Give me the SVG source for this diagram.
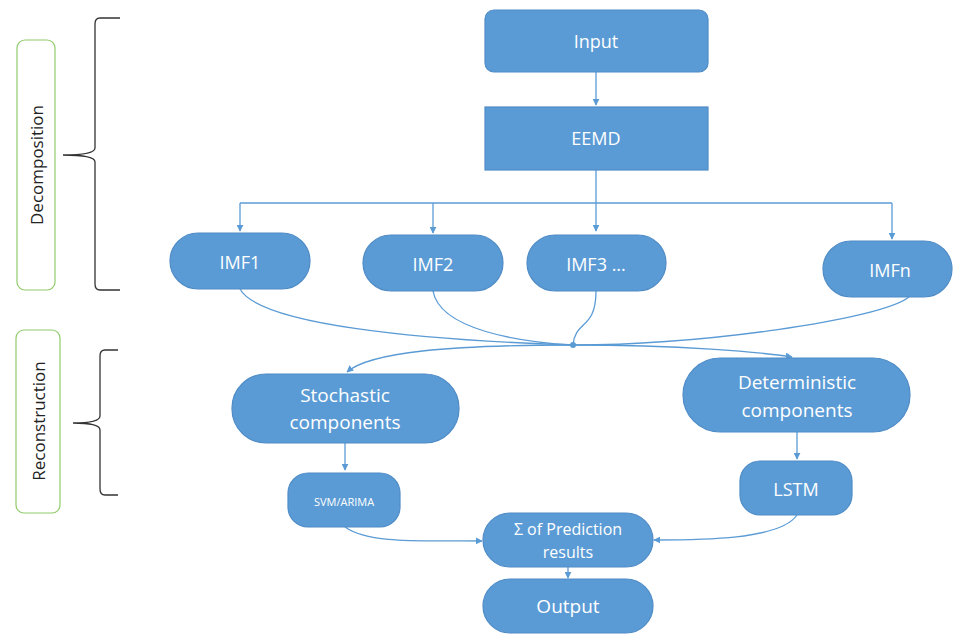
<svg xmlns="http://www.w3.org/2000/svg" width="953" height="635" viewBox="0 0 953 635">
<defs>
<marker id="ah" viewBox="0 0 10 10" refX="9" refY="5" markerWidth="7" markerHeight="7" orient="auto" markerUnits="userSpaceOnUse">
<path d="M0,0 L10,5 L0,10 z" fill="#5B9BD5"/>
</marker>
<style>
.n{fill:#5B9BD5;stroke:#4F8CC6;stroke-width:1.2}
.t{fill:#fff;font-family:"Open Sans","Liberation Sans",sans-serif;text-anchor:middle;dominant-baseline:central}
.c{fill:none;stroke:#5B9BD5;stroke-width:1.3}
.lab{fill:#fff;stroke:#8FCB6B;stroke-width:1.2}
.lt{fill:#222;font-family:"Open Sans","Liberation Sans",sans-serif;font-size:17px;text-anchor:middle;dominant-baseline:central}
.br{fill:none;stroke:#333;stroke-width:1.3}
</style>
</defs>
<rect width="953" height="635" fill="#fff"/>
<g id="connectors">
<path class="c" d="M596,72 V105" marker-end="url(#ah)"/>
<path class="c" d="M596,170 V231" marker-end="url(#ah)"/>
<path class="c" d="M240,203 H892"/>
<path class="c" d="M240,203 V231" marker-end="url(#ah)"/>
<path class="c" d="M433,203 V233" marker-end="url(#ah)"/>
<path class="c" d="M892,203 V239" marker-end="url(#ah)"/>
<path class="c" d="M240,289 C260,325 420,340 573,345"/>
<path class="c" d="M433,291 C440,330 520,342 573,345"/>
<path class="c" d="M596,291 C596,330 575,320 573,345"/>
<path class="c" d="M909,297 C880,320 700,345 573,345"/>
<path class="c" d="M573,345 C450,345 370,352 347,372" marker-end="url(#ah)"/>
<path class="c" d="M573,345 C680,345 760,352 792,357" marker-end="url(#ah)"/>
<circle cx="573" cy="345" r="3" fill="#5B9BD5"/>
<path class="c" d="M345,443 V470" marker-end="url(#ah)"/>
<path class="c" d="M797,432 V459" marker-end="url(#ah)"/>
<path class="c" d="M345,527 C370,545 430,540 482,541" marker-end="url(#ah)"/>
<path class="c" d="M797,515 C780,540 700,540 654,540" marker-end="url(#ah)"/>
<path class="c" d="M568,567 V578" marker-end="url(#ah)"/>
</g>
<g id="decomposition">
<rect class="lab" x="17" y="40" width="38" height="250" rx="8"/>
<text class="lt" transform="translate(36,165) rotate(-90)">Decomposition</text>
<path class="br" d="M120,18 H100 Q95,18 95,24 V148 Q95,155 63,155 Q95,155 95,162 V284 Q95,290 100,290 H120"/>
</g>
<g id="reconstruction">
<rect class="lab" x="16" y="330" width="44" height="183" rx="8"/>
<text class="lt" transform="translate(38,421) rotate(-90)">Reconstruction</text>
<path class="br" d="M118,350 H105 Q100,350 100,356 V416 Q100,423 73,423 Q100,423 100,430 V489 Q100,495 105,495 H118"/>
</g>
<g id="input"><rect class="n" x="485" y="10" width="223" height="62" rx="9"/><text class="t" x="596" y="41" font-size="18">Input</text></g>
<g id="eemd"><rect class="n" x="485" y="107" width="223" height="63"/><text class="t" x="596" y="138" font-size="18">EEMD</text></g>
<g id="imf1"><rect class="n" x="170" y="233" width="140" height="56" rx="28"/><text class="t" x="240" y="262" font-size="18">IMF1</text></g>
<g id="imf2"><rect class="n" x="363" y="235" width="140" height="56" rx="28"/><text class="t" x="433" y="264" font-size="18">IMF2</text></g>
<g id="imf3"><rect class="n" x="527" y="235" width="139" height="56" rx="28"/><text class="t" x="596" y="264" font-size="18">IMF3 ...</text></g>
<g id="imfn"><rect class="n" x="823" y="241" width="129" height="56" rx="28"/><text class="t" x="890" y="270" font-size="18">IMFn</text></g>
<g id="stochastic"><rect class="n" x="232" y="374" width="227" height="69" rx="34"/><text class="t" x="345" y="395" font-size="19">Stochastic</text><text class="t" x="345" y="422" font-size="19">components</text></g>
<g id="deterministic"><rect class="n" x="683" y="358" width="227" height="74" rx="37"/><text class="t" x="797" y="382" font-size="19">Deterministic</text><text class="t" x="797" y="410" font-size="19">components</text></g>
<g id="svm"><rect class="n" x="288" y="473" width="112" height="54" rx="20"/><text class="t" x="344" y="501" font-size="11">SVM/ARIMA</text></g>
<g id="lstm"><rect class="n" x="740" y="461" width="112" height="54" rx="20"/><text class="t" x="796" y="489" font-size="18">LSTM</text></g>
<g id="sum"><rect class="n" x="483" y="513" width="170" height="54" rx="27"/><text class="t" x="568" y="529" font-size="16">Σ of Prediction</text><text class="t" x="568" y="552" font-size="16">results</text></g>
<g id="output"><rect class="n" x="483" y="579" width="170" height="54" rx="27"/><text class="t" x="568" y="606" font-size="19">Output</text></g>
</svg>
